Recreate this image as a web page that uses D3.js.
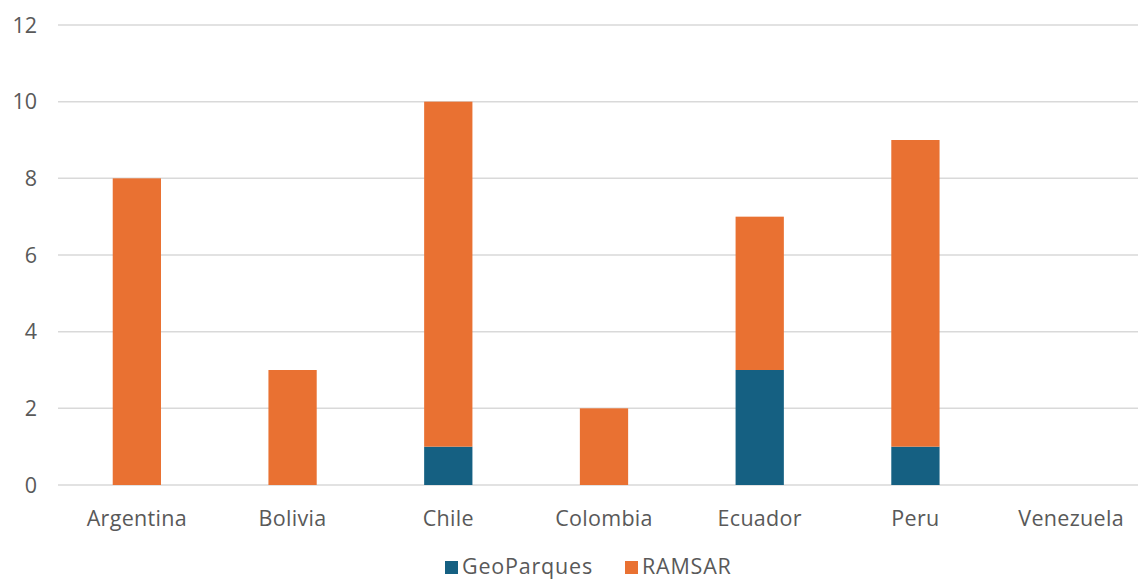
<!DOCTYPE html>
<meta charset="utf-8">
<style>
body {
  margin: 0;
  background: #fff;
  font-family: "Open Sans", sans-serif;
}
text {
  fill: #595959;
  font-size: 21.5px;
}
.grid line {
  stroke: #d9d9d9;
  stroke-width: 1.5;
}
</style>
<body>
<script src="https://cdn.jsdelivr.net/npm/d3@7"></script>
<script>

var countries = ["Argentina", "Bolivia", "Chile", "Colombia", "Ecuador", "Peru", "Venezuela"];
var geoparques = [0, 0, 1, 0, 3, 1, 0];
var ramsar = [8, 3, 9, 2, 4, 8, 0];
var yTicks = [0, 2, 4, 6, 8, 10, 12];
var seriesNames = ["GeoParques", "RAMSAR"];
var colors = ["#156082", "#e97132"];

var width = 1138,
    height = 579;

var svg = d3.select("body").append("svg")
    .attr("width", width)
    .attr("height", height);

var x = d3.scaleBand()
    .domain(countries)
    .range([59, 1149])
    .paddingInner(0.69)
    .paddingOuter(0.345);

var y = d3.scaleLinear()
    .domain([0, 12])
    .range([485, 25]);

// gridlines
svg.append("g")
    .attr("class", "grid")
  .selectAll("line")
    .data(yTicks)
  .enter().append("line")
    .attr("x1", 58)
    .attr("x2", width)
    .attr("y1", function(d) { return y(d); })
    .attr("y2", function(d) { return y(d); });

// y labels
svg.append("g")
  .selectAll("text")
    .data(yTicks)
  .enter().append("text")
    .attr("x", 37)
    .attr("y", function(d) { return y(d); })
    .attr("dy", "0.35em")
    .attr("text-anchor", "end")
    .text(function(d) { return d; });

var rows = countries.map(function(c, i) {
  return {country: c, GeoParques: geoparques[i], RAMSAR: ramsar[i]};
});

var stack = d3.stack().keys(seriesNames)(rows);

svg.append("g")
  .selectAll("g")
    .data(stack)
  .enter().append("g")
    .attr("fill", function(d, i) { return colors[i]; })
  .selectAll("rect")
    .data(function(d) { return d; })
  .enter().append("rect")
    .attr("x", function(d) { return x(d.data.country); })
    .attr("width", x.bandwidth())
    .attr("y", function(d) { return y(d[1]); })
    .attr("height", function(d) { return y(d[0]) - y(d[1]); });

// x labels
svg.append("g")
  .selectAll("text")
    .data(countries)
  .enter().append("text")
    .attr("x", function(d) { return x(d) + x.bandwidth() / 2; })
    .attr("y", 526)
    .attr("text-anchor", "middle")
    .style("letter-spacing", "0.3px")
    .text(function(d) { return d; });

// legend
var legend = svg.append("g");
var legendX = [445, 625];
seriesNames.forEach(function(name, i) {
  legend.append("rect")
      .attr("x", legendX[i])
      .attr("y", 561)
      .attr("width", 13)
      .attr("height", 13)
      .attr("fill", colors[i]);
  legend.append("text")
      .attr("x", legendX[i] + 17)
      .attr("y", 574)
      .style("letter-spacing", "0.8px")
      .text(name);
});

</script>
